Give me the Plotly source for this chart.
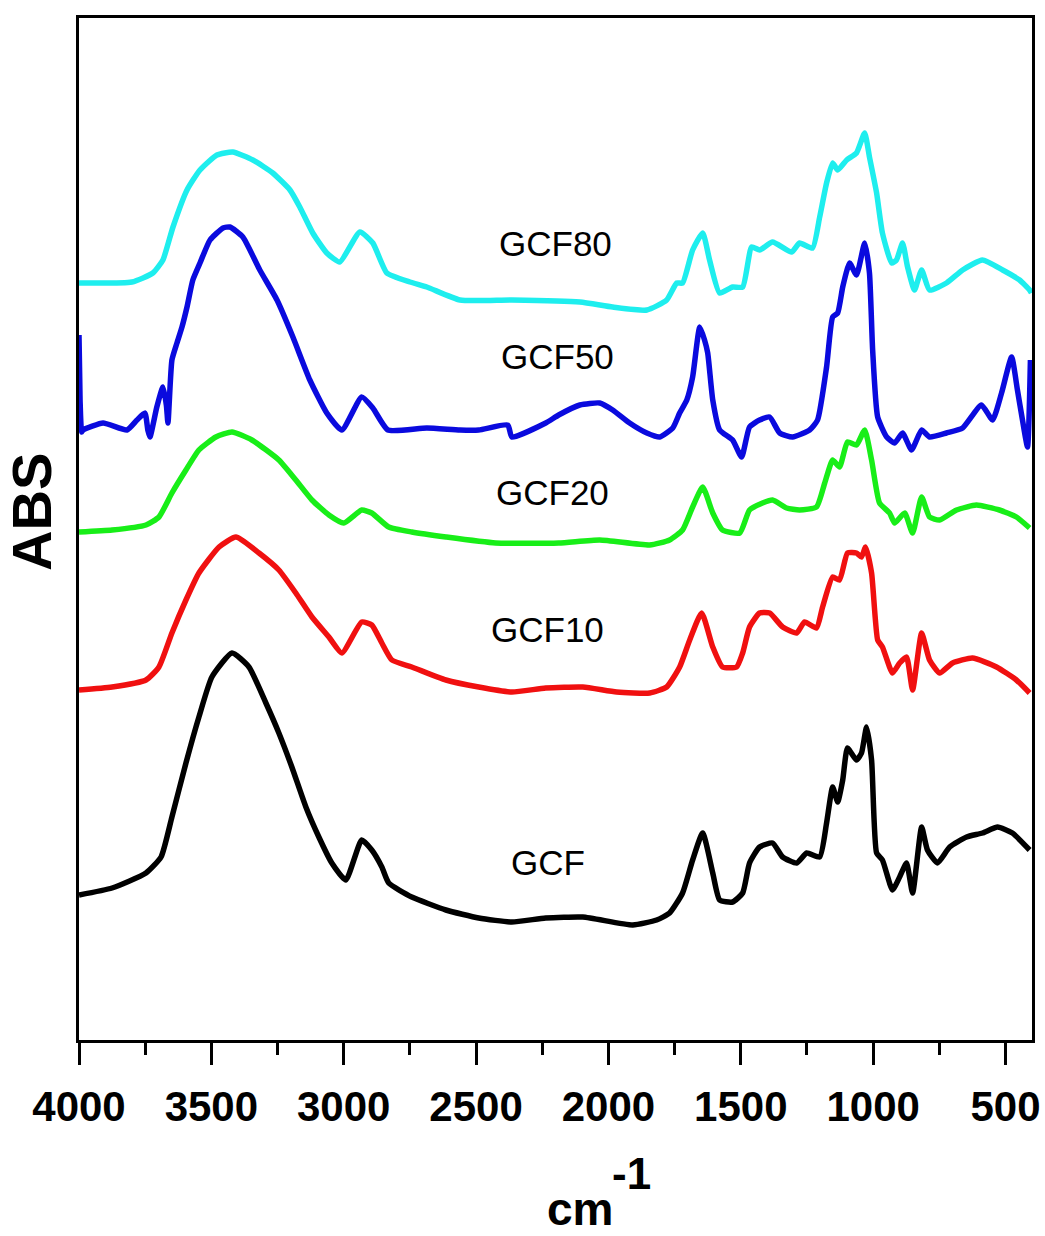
import plotly.graph_objects as go

# Wavenumbers (cm-1) and absorbance heights (arbitrary units, offset-stacked as in the figure)
gcf_x = [4000, 3875, 3747, 3690, 3649, 3596, 3547, 3498, 3422, 3358, 3294, 3245, 3196, 3143, 3094, 3045, 2992,
         2932, 2894, 2856, 2830, 2743, 2614, 2490, 2365, 2237, 2097, 1908, 1818, 1769, 1720, 1682, 1644, 1606,
         1580, 1531, 1493, 1467, 1429, 1380, 1342, 1289, 1251, 1202, 1176, 1153, 1134, 1115, 1097, 1063, 1044,
         1025, 1006, 987, 965, 927, 900, 874, 851, 817, 795, 757, 711, 647, 587, 530, 474, 409]
gcf_y = [145, 152, 167, 183, 223, 277, 323, 363, 387, 373, 337, 307, 273, 233, 203, 177, 160,
         200, 190, 173, 157, 143, 130, 122, 118, 122, 123, 115, 120, 127, 147, 180, 207, 167,
         140, 138, 147, 177, 193, 197, 183, 177, 187, 183, 217, 253, 238, 260, 292, 280, 287,
         313, 280, 187, 180, 150, 163, 177, 147, 213, 190, 177, 193, 203, 207, 213, 207, 190]

gcf10_x = [4000, 3875, 3747, 3698, 3649, 3596, 3547, 3471, 3407, 3320, 3245, 3181, 3120, 3056, 3007, 2932,
           2894, 2856, 2818, 2743, 2614, 2490, 2365, 2237, 2097, 1969, 1844, 1780, 1731, 1693, 1648, 1606,
           1569, 1516, 1493, 1467, 1429, 1391, 1342, 1289, 1259, 1214, 1191, 1153, 1127, 1097, 1063, 1044,
           1029, 1006, 983, 965, 927, 900, 874, 851, 817, 787, 749, 700, 625, 534, 459, 409]
gcf10_y = [350, 353, 360, 373, 407, 440, 467, 493, 503, 487, 470, 447, 423, 403, 387, 418,
           415, 397, 380, 373, 360, 353, 348, 352, 353, 348, 347, 353, 373, 400, 427, 393,
           373, 373, 387, 413, 427, 427, 413, 407, 418, 412, 433, 463, 460, 487, 487, 483,
           493, 467, 400, 393, 367, 377, 383, 350, 407, 380, 367, 377, 382, 373, 360, 347]

gcf20_x = [4000, 3875, 3747, 3698, 3649, 3596, 3547, 3483, 3422, 3347, 3245, 3181, 3120, 3056, 3000, 2932,
           2894, 2830, 2743, 2614, 2426, 2188, 2033, 1844, 1769, 1720, 1682, 1644, 1606, 1569, 1504, 1467,
           1418, 1380, 1327, 1278, 1214, 1183, 1153, 1127, 1097, 1063, 1032, 1006, 976, 938, 919, 881,
           851, 817, 787, 749, 685, 610, 523, 459, 409]
gcf20_y = [508, 510, 515, 523, 547, 570, 590, 603, 608, 600, 580, 560, 540, 525, 517, 530,
           527, 513, 508, 503, 497, 497, 500, 495, 500, 510, 533, 553, 527, 510, 507, 530,
           537, 540, 532, 530, 533, 557, 580, 573, 598, 595, 610, 580, 537, 527, 517, 527,
           507, 543, 523, 520, 530, 535, 530, 523, 512]

gcf50_x = [4000, 3996, 3990, 3985, 3909, 3819, 3781, 3751, 3740, 3732, 3706, 3683, 3670, 3664, 3649, 3630,
           3611, 3592, 3570, 3543, 3505, 3456, 3430, 3381, 3317, 3252, 3192, 3128, 3064, 3007, 2932, 2890,
           2833, 2686, 2561, 2490, 2380, 2365, 2237, 2188, 2108, 2033, 1984, 1920, 1855, 1806, 1757, 1731,
           1704, 1682, 1655, 1637, 1625, 1606, 1580, 1531, 1497, 1467, 1429, 1391, 1353, 1304, 1240, 1210,
           1176, 1153, 1134, 1115, 1089, 1063, 1032, 1014, 1002, 983, 949, 919, 889, 855, 817, 787,
           723, 662, 591, 549, 515, 477, 455, 436, 417, 406]
gcf50_y = [705, 640, 608, 610, 617, 610, 620, 627, 610, 603, 633, 653, 635, 617, 680, 697,
           713, 733, 760, 777, 800, 812, 813, 803, 770, 740, 703, 660, 627, 610, 643, 632,
           610, 612, 610, 610, 615, 603, 617, 625, 635, 637, 630, 617, 607, 603, 612, 627,
           640, 663, 713, 700, 687, 640, 610, 600, 583, 613, 620, 623, 607, 603, 610, 620,
           673, 723, 727, 753, 777, 765, 797, 767, 690, 623, 603, 597, 607, 590, 610, 603,
           607, 612, 635, 620, 647, 683, 650, 620, 593, 680]

gcf80_x = [4000, 3800, 3721, 3683, 3645, 3592, 3543, 3479, 3419, 3343, 3268, 3203, 3166, 3117, 3064, 3015,
           2939, 2890, 2837, 2750, 2686, 2561, 2365, 2108, 1984, 1855, 1780, 1742, 1720, 1682, 1644, 1618,
           1580, 1531, 1493, 1459, 1429, 1380, 1308, 1278, 1229, 1202, 1176, 1153, 1134, 1100, 1063, 1032,
           1014, 987, 965, 930, 912, 889, 870, 844, 817, 787, 723, 662, 587, 511, 447, 409, 402]
gcf80_y = [757, 758, 767, 780, 813, 850, 870, 885, 888, 880, 867, 850, 833, 807, 787, 778,
           808, 797, 767, 758, 753, 740, 740, 738, 733, 730, 740, 757, 757, 790, 807, 780,
           747, 753, 753, 793, 790, 798, 788, 797, 792, 823, 857, 877, 870, 880, 887, 907,
           883, 847, 807, 777, 780, 797, 773, 750, 770, 750, 757, 770, 780, 770, 760, 750, 747]

series_names = ["GCF", "GCF10", "GCF20", "GCF50", "GCF80"]
series_x = [gcf_x, gcf10_x, gcf20_x, gcf50_x, gcf80_x]
series_y = [gcf_y, gcf10_y, gcf20_y, gcf50_y, gcf80_y]
colors = ["#000000", "#F01010", "#18EE18", "#0A0ADE", "#1EEEEE"]

x_tick_vals = [4000, 3500, 3000, 2500, 2000, 1500, 1000, 500]
x_tick_text = ["4000", "3500", "3000", "2500", "2000", "1500", "1000", "500"]

# label anchor points (data coords)
label_pos = {"GCF80": (2199, 797), "GCF50": (2191, 684), "GCF20": (2210, 548),
             "GCF10": (2229, 411), "GCF": (2229, 178)}

fig = go.Figure()
for name, xs, ys, c in zip(series_names, series_x, series_y, colors):
    fig.add_trace(go.Scatter(x=xs, y=ys, mode="lines", name=name,
                             line=dict(color=c, width=5.5, shape="spline", smoothing=0.5),
                             showlegend=False))

font = "Liberation Sans, Arial, sans-serif"
for name, (lx, ly) in label_pos.items():
    fig.add_annotation(x=lx, y=ly, text=name, showarrow=False,
                       font=dict(family=font, size=35, color="#000000"),
                       xanchor="center", yanchor="middle")

fig.update_layout(
    width=1045, height=1236,
    margin=dict(l=79, r=13, t=18, b=196, autoexpand=False),
    plot_bgcolor="white", paper_bgcolor="white",
)
fig.update_xaxes(
    range=[4000, 400], showline=True, linecolor="black", linewidth=3, mirror=True,
    showgrid=False, zeroline=False, automargin=False,
    tickmode="array", tickvals=x_tick_vals, ticktext=x_tick_text,
    ticks="outside", ticklen=22, tickwidth=2.5, tickcolor="black",
    ticklabeloverflow="allow", ticklabelstandoff=6,
    tickfont=dict(family=font, size=42, color="black", weight="bold"),
    minor=dict(tickvals=[3750, 3250, 2750, 2250, 1750, 1250, 750], ticks="outside",
               ticklen=12, tickwidth=2.5, tickcolor="black", showgrid=False),
)
fig.update_yaxes(
    range=[0, 1022], showline=True, linecolor="black", linewidth=3, mirror=True,
    showgrid=False, zeroline=False, showticklabels=False, ticks="", automargin=False,
)

fig.add_annotation(xref="paper", yref="paper", x=-0.050, y=0.517, text="ABS", textangle=-90,
                   showarrow=False, xanchor="center", yanchor="middle",
                   font=dict(family=font, size=56, color="black", weight="bold"))
fig.add_annotation(xref="paper", yref="paper", x=0.526, y=-0.165, text="cm", showarrow=False,
                   xanchor="center", yanchor="middle",
                   font=dict(family=font, size=46, color="black", weight="bold"))
fig.add_annotation(xref="paper", yref="paper", x=0.580, y=-0.131, text="-1", showarrow=False,
                   xanchor="center", yanchor="middle",
                   font=dict(family=font, size=44, color="black", weight="bold"))

fig.write_html("out.html")
